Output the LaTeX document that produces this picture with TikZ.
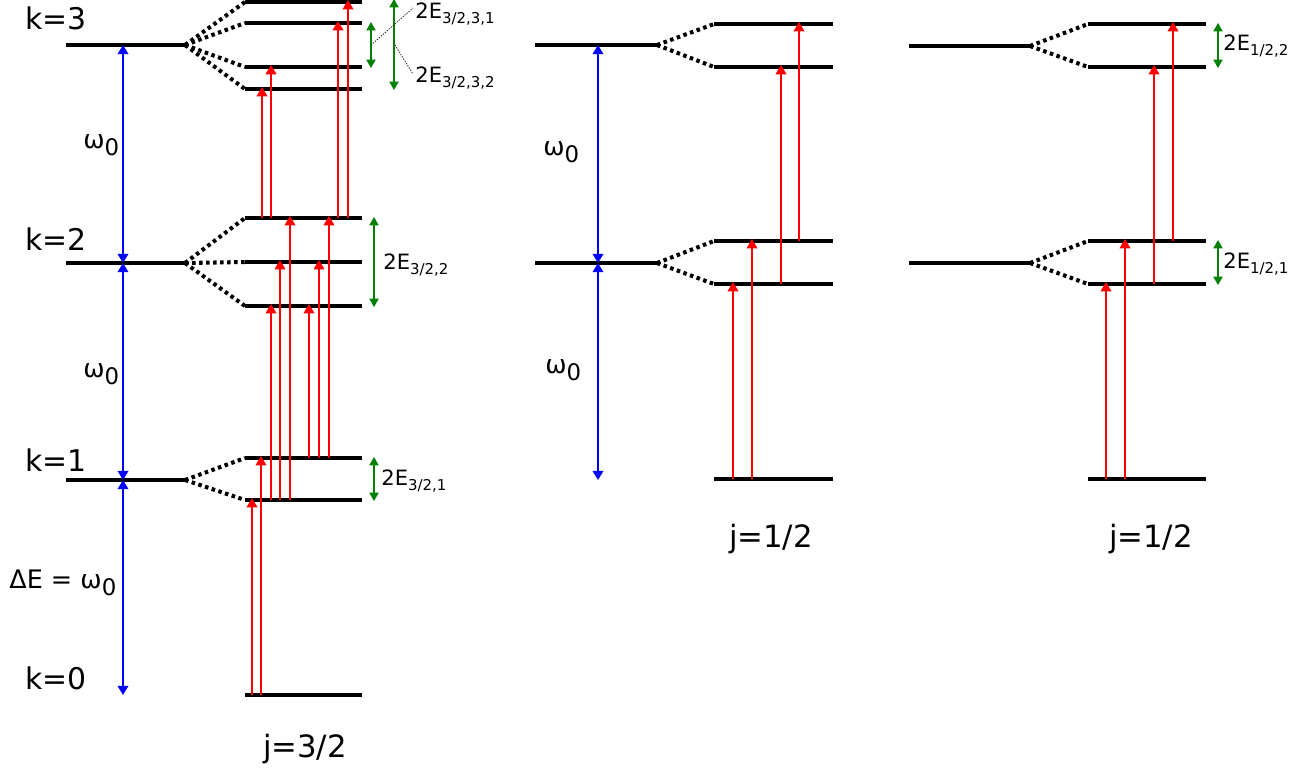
\documentclass[tikz,border=0pt]{standalone}
\usepackage{fontspec}
\setmainfont{DejaVu Sans}
\usetikzlibrary{arrows.meta}
\definecolor{dgreen}{RGB}{0,128,0}
\newcommand{\Esub}[1]{2E\raisebox{-0.45ex}{\fontsize{8.5}{9}\selectfont #1}}
\newcommand{\omz}{ω\raisebox{-0.55ex}{\fontsize{13}{14}\selectfont 0}}
\begin{document}
\begin{tikzpicture}[x=0.02cm,y=-0.02cm,
  lvl/.style={line width=2.3pt},
  splitln/.style={line width=2.3pt,dash pattern=on 2pt off 2pt},
  redarr/.style={draw=red,line width=1.2pt,shorten >=-1.2pt,-{Triangle[width=6pt,length=5.4pt]}},
  bluearr/.style={draw=blue,line width=1.1pt,{Triangle[width=6pt,length=5.2pt]}-{Triangle[width=6pt,length=5.2pt]}},
  greenarr/.style={draw=dgreen,line width=0.9pt,shorten <=-0.6pt,shorten >=-0.6pt,{Triangle[width=5.2pt,length=4.8pt]}-{Triangle[width=5.2pt,length=4.8pt]}},
  leader/.style={draw=black!85,line width=0.45pt,dash pattern=on 0.8pt off 0.7pt},
  klab/.style={font=\fontsize{17}{20}\selectfont,inner sep=0,anchor=base west},
  jlab/.style={font=\fontsize{17.5}{20}\selectfont,inner sep=0,anchor=base},
  wlab/.style={font=\fontsize{14.5}{17}\selectfont,inner sep=0,anchor=base west},
  elab/.style={font=\fontsize{12}{14}\selectfont,inner sep=0,anchor=base west}]
\useasboundingbox (0,0) rectangle (1314,769);

% ---------------- left section (j=3/2) ----------------
\draw[lvl] (66,45) coordinate (b3s) -- (185,45) coordinate (b3);
\draw[lvl] (66,263) coordinate (b2s) -- (185,263) coordinate (b2);
\draw[lvl] (66,480) coordinate (b1s) -- (185,480) coordinate (b1);

\draw[lvl] (245,2) coordinate (s3a) -- (362,2);
\draw[lvl] (245,23) coordinate (s3b) -- (362,23);
\draw[lvl] (245,67) coordinate (s3c) -- (362,67);
\draw[lvl] (245,89) coordinate (s3d) -- (362,89);
\draw[lvl] (245,218) coordinate (s2a) -- (362,218);
\draw[lvl] (245,262) coordinate (s2b) -- (362,262);
\draw[lvl] (245,306) coordinate (s2c) -- (362,306);
\draw[lvl] (245,458) coordinate (s1a) -- (362,458);
\draw[lvl] (245,500) coordinate (s1b) -- (362,500);
\draw[lvl] (245,695) coordinate (l0) -- (362,695);

\foreach \t in {s3a,s3b,s3c,s3d} \draw[splitln] (b3) -- (\t);
\foreach \t in {s2a,s2b,s2c} \draw[splitln] (b2) -- (\t);
\foreach \t in {s1a,s1b} \draw[splitln] (b1) -- (\t);

\coordinate (bl) at (123,0);
\coordinate (bl0) at (123,695);
\draw[bluearr] (bl |- b3) -- (bl |- b2);
\draw[bluearr] (bl |- b2) -- (bl |- b1);
\draw[bluearr] (bl |- b1) -- (bl0);

\foreach \x/\a/\b in {252/l0/s1b,261/l0/s1a,
   271/s1b/s2c,280/s1b/s2b,290/s1b/s2a,
   309/s1a/s2c,319/s1a/s2b,329/s1a/s2a,
   262/s2a/s3d,271/s2a/s3c,338/s2a/s3b,348/s2a/s3a}
  \draw[redarr] (\x,0 |- \a) -- (\x,0 |- \b);

\draw[greenarr] (371,0 |- s3b) coordinate (g1t) -- (371,0 |- s3c) coordinate (g1b);
\draw[greenarr] (394,0) coordinate (g2t) -- (394,0 |- s3d) coordinate (g2b);
\draw[greenarr] (374,0 |- s2a) -- (374,0 |- s2c);
\draw[greenarr] (374,0 |- s1a) -- (374,0 |- s1b);

\node[elab] (e331) at (415,18) {\Esub{3/2,3,1}};
\node[elab] (e332) at (415,82) {\Esub{3/2,3,2}};
\node[elab] (e32) at (383,269) {\Esub{3/2,2}};
\node[elab] (e31) at (381,485) {\Esub{3/2,1}};
\coordinate (g1m) at (371,45);
\coordinate (g2m) at (395,45);
\draw[leader] (g1m) -- (413,8);
\draw[leader] (g2m) -- (413,74);

\node[klab] (k3) at (25,29) {k=3};
\node[klab] (k2) at (25,250) {k=2};
\node[klab] (k1) at (25,471) {k=1};
\node[klab] (k0) at (25,689) {k=0};
\node[wlab] (w1) at (83,148) {\omz};
\node[wlab] (w2) at (83,377) {\omz};
\node[wlab] (de) at (9,588) {ΔE = \omz};
\node[jlab] (j32) at (305,757) {j=3/2};

% ---------------- middle section (j=1/2) ----------------
\draw[lvl] (535,45) coordinate (mb3s) -- (657,45) coordinate (mb3);
\draw[lvl] (535,263) coordinate (mb2s) -- (657,263) coordinate (mb2);
\draw[lvl] (714,24) coordinate (m3a) -- (833,24);
\draw[lvl] (714,67) coordinate (m3b) -- (833,67);
\draw[lvl] (714,241) coordinate (m2a) -- (833,241);
\draw[lvl] (714,284) coordinate (m2b) -- (833,284);
\draw[lvl] (714,479) coordinate (m0) -- (833,479);
\foreach \t in {m3a,m3b} \draw[splitln] (mb3) -- (\t);
\foreach \t in {m2a,m2b} \draw[splitln] (mb2) -- (\t);

\coordinate (bm) at (598,0);
\coordinate (bm0) at (598,480);
\draw[bluearr] (bm |- mb3) -- (bm |- mb2);
\draw[bluearr] (bm |- mb2) -- (bm0);

\foreach \x/\a/\b in {733/m0/m2b,752/m0/m2a,781/m2b/m3b,799/m2a/m3a}
  \draw[redarr] (\x,0 |- \a) -- (\x,0 |- \b);

\node[wlab] (w3) at (543,155) {\omz};
\node[wlab] (w4) at (545,373) {\omz};
\node[jlab] (j12a) at (771,547) {j=1/2};

% ---------------- right section (j=1/2) ----------------
\draw[lvl] (909,46) coordinate (rb3s) -- (1030,46) coordinate (rb3);
\draw[lvl] (909,263) coordinate (rb2s) -- (1030,263) coordinate (rb2);
\draw[lvl] (1088,24) coordinate (r3a) -- (1206,24);
\draw[lvl] (1088,67) coordinate (r3b) -- (1206,67);
\draw[lvl] (1088,241) coordinate (r2a) -- (1206,241);
\draw[lvl] (1088,284) coordinate (r2b) -- (1206,284);
\draw[lvl] (1088,479) coordinate (r0) -- (1206,479);
\foreach \t in {r3a,r3b} \draw[splitln] (rb3) -- (\t);
\foreach \t in {r2a,r2b} \draw[splitln] (rb2) -- (\t);

\foreach \x/\a/\b in {1106/r0/r2b,1125/r0/r2a,1154/r2b/r3b,1173/r2a/r3a}
  \draw[redarr] (\x,0 |- \a) -- (\x,0 |- \b);

\draw[greenarr] (1218,0 |- r3a) -- (1218,0 |- r3b);
\draw[greenarr] (1218,0 |- r2a) -- (1218,0 |- r2b);
\node[elab] (e122) at (1223,50) {\Esub{1/2,2}};
\node[elab] (e121) at (1223,268) {\Esub{1/2,1}};
\node[jlab] (j12b) at (1151,547) {j=1/2};
\end{tikzpicture}
\end{document}
